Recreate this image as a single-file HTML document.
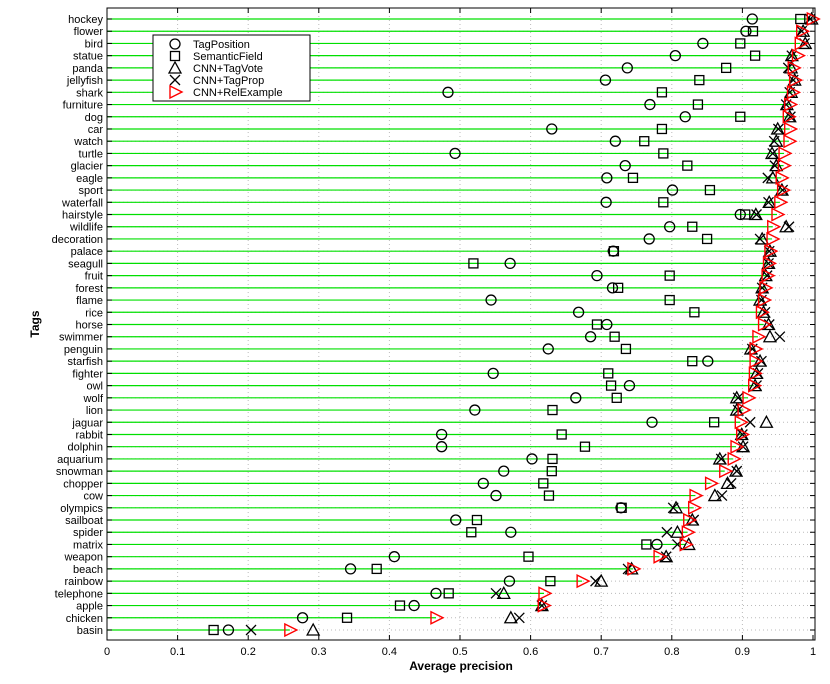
<!DOCTYPE html>
<html><head><meta charset="utf-8"><style>
html,body{margin:0;padding:0;background:#fff;}
svg{display:block;font-family:"Liberation Sans",Arial,sans-serif;}
</style></head><body>
<svg id="chart" width="830" height="684" viewBox="0 0 830 684" xmlns="http://www.w3.org/2000/svg">
<rect x="0" y="0" width="830" height="684" fill="#fff"/>
<g id="grid"></g>
<g id="lines"></g>
<g id="marks"></g>
<rect x="107" y="8" width="708" height="632" fill="none" stroke="#000" stroke-width="1"/>
<g id="axes"></g>
<text x="461" y="670" font-size="12" font-weight="bold" text-anchor="middle">Average precision</text>
<text x="0" y="0" font-size="12" font-weight="bold" text-anchor="middle" transform="translate(39,324) rotate(-90)">Tags</text>
<g id="legend"></g>
</svg>
<script>
const tags = ["hockey","flower","bird","statue","panda","jellyfish","shark","furniture","dog","car","watch","turtle","glacier","eagle","sport","waterfall","hairstyle","wildlife","decoration","palace","seagull","fruit","forest","flame","rice","horse","swimmer","penguin","starfish","fighter","owl","wolf","lion","jaguar","rabbit","dolphin","aquarium","snowman","chopper","cow","olympics","sailboat","spider","matrix","weapon","beach","rainbow","telephone","apple","chicken","basin"];
const tagPosition = [0.914,0.905,0.844,0.805,0.737,0.706,0.483,0.769,0.819,0.630,0.720,0.493,0.734,0.708,0.801,0.707,0.897,0.797,0.768,0.717,0.571,0.694,0.716,0.544,0.668,0.708,0.685,0.625,0.851,0.547,0.740,0.664,0.521,0.772,0.474,0.474,0.602,0.562,0.533,0.551,0.728,0.494,0.572,0.779,0.407,0.345,0.570,0.466,0.435,0.277,0.172];
const semanticField = [0.982,0.915,0.897,0.918,0.877,0.839,0.786,0.837,0.897,0.786,0.761,0.788,0.822,0.745,0.854,0.788,0.904,0.829,0.850,0.718,0.519,0.797,0.724,0.797,0.832,0.694,0.719,0.735,0.829,0.710,0.714,0.722,0.631,0.860,0.644,0.677,0.631,0.630,0.618,0.626,0.729,0.524,0.516,0.764,0.597,0.382,0.628,0.484,0.415,0.340,0.151];
const cnnTagVote = [0.998,0.986,0.989,0.970,0.969,0.974,0.969,0.963,0.967,0.950,0.948,0.942,0.948,0.943,0.956,0.938,0.919,0.962,0.928,0.939,0.937,0.933,0.928,0.925,0.930,0.937,0.939,0.912,0.925,0.920,0.918,0.892,0.892,0.934,0.899,0.901,0.868,0.891,0.879,0.861,0.806,0.829,0.808,0.824,0.792,0.743,0.700,0.562,0.616,0.572,0.292];
const cnnTagProp = [0.996,0.984,0.988,0.970,0.965,0.972,0.967,0.962,0.968,0.951,0.945,0.943,0.946,0.936,0.957,0.937,0.920,0.966,0.925,0.938,0.937,0.935,0.928,0.927,0.932,0.938,0.953,0.914,0.927,0.922,0.920,0.894,0.894,0.911,0.900,0.901,0.870,0.892,0.884,0.871,0.802,0.831,0.793,0.808,0.792,0.738,0.692,0.551,0.616,0.584,0.204];
const cnnRelExample = [0.999,0.984,0.982,0.978,0.972,0.974,0.971,0.967,0.965,0.967,0.966,0.959,0.958,0.955,0.957,0.953,0.949,0.943,0.942,0.939,0.937,0.935,0.932,0.930,0.927,0.930,0.922,0.918,0.918,0.917,0.916,0.908,0.901,0.897,0.899,0.891,0.887,0.875,0.855,0.833,0.831,0.824,0.822,0.819,0.782,0.745,0.673,0.619,0.618,0.466,0.259];
const xTicks = [0,0.1,0.2,0.3,0.4,0.5,0.6,0.7,0.8,0.9,1];
const xTickLabels = ["0","0.1","0.2","0.3","0.4","0.5","0.6","0.7","0.8","0.9","1"];
const legendLabels = ["TagPosition","SemanticField","CNN+TagVote","CNN+TagProp","CNN+RelExample"];

const NS="http://www.w3.org/2000/svg";
const X0=107,X1=815,Y0=8,Y1=640;
function xs(v){return X0+v*(X1-X0-2);}
function ys(i){return 19+i*(630-19)/(tags.length-1);}
function mk(tag,attrs,parent){const e=document.createElementNS(NS,tag);for(const k in attrs)e.setAttribute(k,attrs[k]);parent.appendChild(e);return e;}
const grid=document.getElementById('grid'),lines=document.getElementById('lines'),marks=document.getElementById('marks'),axes=document.getElementById('axes'),legend=document.getElementById('legend');

xTicks.forEach((t,i)=>{
  const x=xs(t);
  if(i>0&&i<xTicks.length-1){
    const g=mk('line',{x1:x,x2:x,y1:Y0,y2:Y1,stroke:'#bbb','stroke-dasharray':'1,3','stroke-width':1},grid);
    
    
  }
  const tk=mk('line',{x1:x,x2:x,y1:Y1,y2:Y1-5,stroke:'#000'},axes);
  
  
  const tk2=mk('line',{x1:x,x2:x,y1:Y0,y2:Y0+5,stroke:'#000'},axes);
  
  
  const lb=mk('text',{x:x,y:655,'font-size':11,'text-anchor':'middle'},axes);
  lb.textContent=xTickLabels[i];
  
  
});

tags.forEach((t,i)=>{
  const y=ys(i);
  const g=mk('line',{x1:X0,x2:X1,y1:y,y2:y,stroke:'#bbb','stroke-dasharray':'1,3','stroke-width':1},grid);
  
  
  const gl=mk('line',{x1:X0,x2:xs(cnnRelExample[i]),y1:y,y2:y,stroke:'#00e000','stroke-width':1.2},lines);
  
  
  const tk=mk('line',{x1:X0,x2:X0+5,y1:y,y2:y,stroke:'#000'},axes);
  
  
  const tk2=mk('line',{x1:X1-5,x2:X1,y1:y,y2:y,stroke:'#000'},axes);
  
  
  const lb=mk('text',{x:103,y:y+4,'font-size':11,'text-anchor':'end'},axes);
  lb.textContent=t;
  
  
});

function marker(type,x,y,parent){
  let e;
  const s={fill:'none',stroke:'#000','stroke-width':1.3};
  if(type===0){e=mk('circle',Object.assign({cx:x,cy:y,r:5},s),parent);}
  else if(type===1){e=mk('rect',Object.assign({x:x-4.5,y:y-4.5,width:9,height:9},s),parent);}
  else if(type===2){e=mk('polygon',Object.assign({points:`${x},${y-6} ${x-6},${y+5} ${x+6},${y+5}`},s),parent);}
  else if(type===3){e=mk('path',Object.assign({d:`M${x-5},${y-5}L${x+5},${y+5}M${x-5},${y+5}L${x+5},${y-5}`},s),parent);}
  else {e=mk('polygon',{points:`${x-5},${y-6} ${x+7},${y} ${x-5},${y+6}`,fill:'none',stroke:'#f00','stroke-width':1.4},parent);}
  return e;
}
const series=[tagPosition,semanticField,cnnTagVote,cnnTagProp,cnnRelExample];
const sNames=['tag-position','semantic-field','cnn-tagvote','cnn-tagprop','cnn-relexample'];
series.forEach((arr,s)=>{
  arr.forEach((v,i)=>{
    const e=marker(s,xs(v),ys(i),marks);
    
    
  });
});

const lb=mk('rect',{x:153,y:35,width:157,height:66,fill:'#fff',stroke:'#000','stroke-width':1},legend);


legendLabels.forEach((l,i)=>{
  const y=44+i*12;
  const m=marker(i,175,y,legend);
  
  
  const t=mk('text',{x:193,y:y+4,'font-size':11},legend);
  t.textContent=l;
  
  
});
</script>
</body></html>
